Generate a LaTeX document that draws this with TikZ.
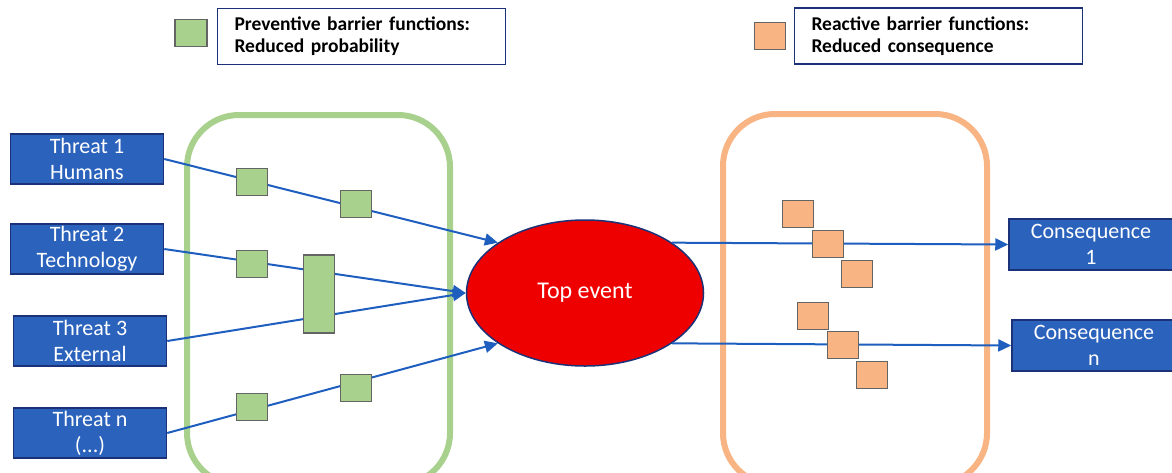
\documentclass[tikz,border=0pt]{standalone}
\usepackage{fontspec}
\setmainfont{Carlito}
\usetikzlibrary{arrows.meta,shapes.geometric}

\definecolor{threatblue}{RGB}{42,98,188}
\definecolor{navy}{RGB}{28,50,120}
\definecolor{flowblue}{RGB}{30,94,190}
\definecolor{prevgreen}{RGB}{169,209,142}
\definecolor{reactorange}{RGB}{248,180,130}
\definecolor{edgegray}{RGB}{100,100,100}
\definecolor{eventred}{RGB}{238,0,0}

\begin{document}
\begin{tikzpicture}[x=1pt, y=-1pt,
    threat/.style={rectangle, draw=navy, line width=1.5pt, fill=threatblue,
      text=white, minimum width=153pt, minimum height=50pt, inner sep=0pt,
      align=center, font=\fontsize{22}{26}\selectfont},
    outcome/.style={threat, minimum width=164pt, minimum height=51pt},
    event/.style={ellipse, draw=navy, line width=1.5pt, fill=eventred,
      text=white, minimum width=237pt, minimum height=146pt, inner sep=0pt,
      font=\fontsize{24}{28}\selectfont},
    prevbar/.style={rectangle, draw=edgegray, line width=1.5pt, fill=prevgreen,
      minimum width=31pt, minimum height=27pt, inner sep=0pt},
    reactbar/.style={prevbar, fill=reactorange},
    legend/.style={rectangle, draw=navy, line width=1.5pt, fill=white,
      minimum height=56pt, inner xsep=17pt, text width=254pt, align=left,
      font=\fontsize{19.5}{22}\selectfont\bfseries},
    flow/.style={draw=flowblue, line width=2pt, -{Triangle[length=13pt,width=12pt]}},
    group/.style={line width=6pt, rounded corners=52pt}
  ]
  \useasboundingbox (0,0) rectangle (1172,472);
  \clip (0,0) rectangle (1172,472);

  % Legend
  \node[prevbar, minimum width=32pt] (keyprev) at (191,33) {};
  \node[legend] (legprev) at (361.5,36.5) {Preventive barrier functions:\\Reduced probability};
  \node[reactbar] (keyreact) at (770,36) {};
  \node[legend] (legreact) at (938.5,36) {Reactive barrier functions:\\Reduced consequence};

  % Barrier groups
  \draw[group, draw=prevgreen] (187,115) rectangle (450,485);
  \draw[group, draw=reactorange] (723,114) rectangle (987,485);

  % Threats, top event, consequences
  \node[threat] (t1) at (87,159) {Threat 1\\Humans};
  \node[threat] (t2) at (87,249) {Threat 2\\Technology};
  \node[threat] (t3) at (90,341) {Threat 3\\External};
  \node[threat] (tn) at (90,433) {Threat n\\(...)};
  \node[event] (top) at (585,293) {Top event};
  \node[outcome] (c1) at (1091,244.5) {Consequence\\1};
  \node[outcome] (cn) at (1094,345.5) {Consequence\\n};

  % Threat lines
  \draw[flow] (t1.east) -- (top.150);
  \draw[flow] (t2.east) -- (top.west);
  \draw[flow] (t3.east) -- (top.west);
  \draw[flow] (tn.east) -- (top.210);

  % Consequence lines
  \draw[flow] (top.30) -- (c1.west);
  \draw[flow] (top.-30) -- (cn.west);

  % Preventive barriers
  \node[prevbar] (p11) at (252,182) {};
  \node[prevbar] (p12) at (356,204) {};
  \node[prevbar] (p21) at (252,264) {};
  \node[prevbar, minimum height=78pt] (p23) at (319,294) {};
  \node[prevbar] (pn1) at (252,407) {};
  \node[prevbar] (pn2) at (356,388) {};

  % Reactive barriers
  \node[reactbar] (r11) at (798,214) {};
  \node[reactbar] (r12) at (828,244) {};
  \node[reactbar] (r13) at (857,274) {};
  \node[reactbar] (rn1) at (813,316) {};
  \node[reactbar] (rn2) at (843,345) {};
  \node[reactbar] (rn3) at (872,375) {};
\end{tikzpicture}
\end{document}
